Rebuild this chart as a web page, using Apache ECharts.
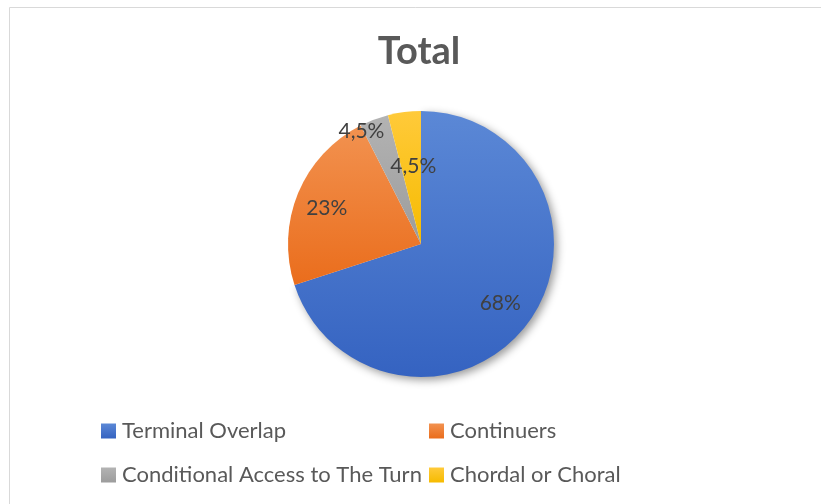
<!DOCTYPE html>
<html>
<head>
<meta charset="utf-8">
<script src="https://cdn.jsdelivr.net/npm/echarts@6/dist/echarts.min.js"></script>
<style>
html,body{margin:0;padding:0;background:#fff;}
#chart{width:821px;height:504px;}
</style>
</head>
<body>
<div id="chart"></div>
<script>
// Data
const categories = ['Terminal Overlap', 'Continuers', 'Conditional Access to The Turn', 'Chordal or Choral'];
const values = [70, 22.5, 3.5, 4];
const labelTexts = ['68%', '23%', '4,5%', '4,5%'];
const titleText = 'Total';

// Styles
const colorsTop = ['#5b88d6', '#f29250', '#b3b3b3', '#ffca3a'];
const colorsBottom = ['#3563c1', '#ea6d1c', '#9c9c9c', '#f6bb00'];
const labelOffsets = [[23, 18], [-30, -9], [-35, -48], [1, -9]];
const legendPos = [[101, 420], [429, 420], [101, 464], [429, 464]];

function grad(i) {
  return new echarts.graphic.LinearGradient(0, 0, 0, 1, [
    { offset: 0, color: colorsTop[i] },
    { offset: 1, color: colorsBottom[i] }
  ]);
}

const chart = echarts.init(document.getElementById('chart'), null, { renderer: 'canvas' });

const seriesData = categories.map((name, i) => {
  const item = { name: name, value: values[i], itemStyle: { color: grad(i) } };
  if (i === 0) {
    item.itemStyle.shadowBlur = 9;
    item.itemStyle.shadowOffsetX = 3;
    item.itemStyle.shadowOffsetY = 3;
    item.itemStyle.shadowColor = 'rgba(0,0,0,0.4)';
  }
  return item;
});

const legends = categories.map((name, i) => ({
  show: true,
  left: legendPos[i][0],
  top: legendPos[i][1],
  padding: 0,
  orient: 'horizontal',
  data: [{ name: name, itemStyle: { color: grad(i) } }],
  icon: 'rect',
  itemWidth: 15,
  itemHeight: 15,
  itemGap: 0,
  selectedMode: false,
  textStyle: { fontFamily: 'Lato', fontSize: 22, color: '#595959', padding: [0, 0, 0, 1] }
}));

chart.setOption({
  animation: false,
  backgroundColor: '#ffffff',
  title: {
    text: titleText,
    left: 419,
    textAlign: 'center',
    top: 33,
    padding: 0,
    textStyle: { fontFamily: 'Lato', fontWeight: 'bold', fontSize: 38, color: '#595959' }
  },
  legend: legends,
  graphic: [{
    type: 'rect',
    left: 7, top: 5,
    shape: { width: 830, height: 530 },
    style: { fill: 'none', stroke: '#d9d9d9', lineWidth: 1 },
    silent: true,
    z: -10
  }],
  series: [{
    type: 'pie',
    center: [421, 244],
    radius: 133,
    startAngle: 90,
    clockwise: true,
    data: seriesData,
    itemStyle: { borderWidth: 0 },
    emphasis: { disabled: true },
    label: {
      show: true,
      position: 'inside',
      formatter: p => labelTexts[p.dataIndex],
      fontFamily: 'Lato',
      fontSize: 21,
      color: '#404040'
    },
    labelLine: { show: false },
    labelLayout: function (params) {
      const o = labelOffsets[params.dataIndex];
      return { dx: o[0], dy: o[1] };
    }
  }]
});
</script>
</body>
</html>
